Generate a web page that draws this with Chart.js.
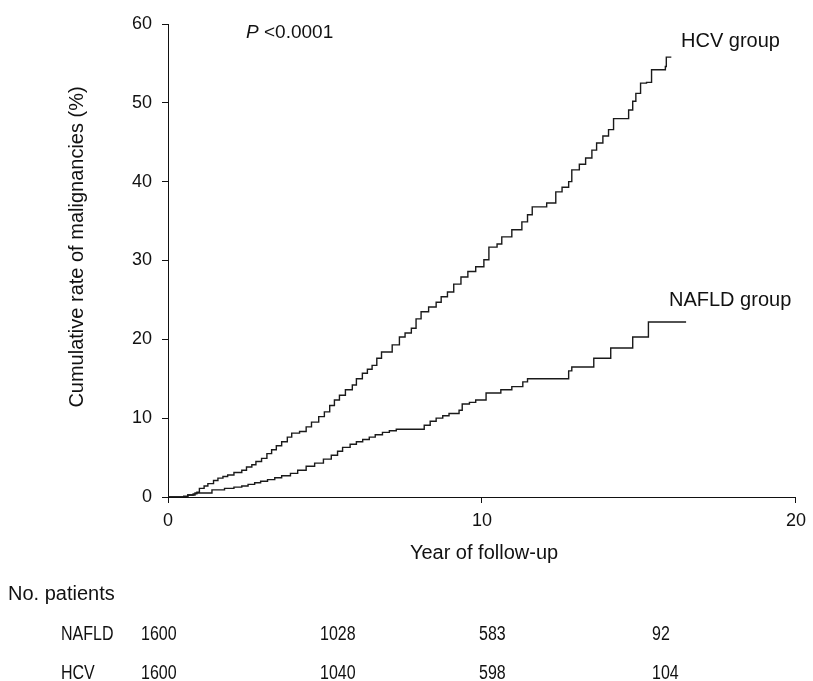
<!DOCTYPE html>
<html>
<head>
<meta charset="utf-8">
<script src="https://cdn.jsdelivr.net/npm/chart.js@4/dist/chart.umd.min.js"></script>
<style>
  html, body { margin: 0; padding: 0; background: #fff; }
  #wrap { width: 813px; height: 681px; position: relative; }
</style>
</head>
<body>
<div id="wrap"><canvas id="c" width="813" height="681"></canvas></div>
<script>
// ---- data ----
const xTicks = [0, 10, 20];
const yTicks = [0, 10, 20, 30, 40, 50, 60];

const hcvYears = [0, 0.3, 0.5, 0.63, 0.8, 0.92, 1.0, 1.15, 1.27, 1.45, 1.59, 1.75, 1.9, 2.1, 2.35, 2.5, 2.67, 2.8, 2.98, 3.15, 3.3, 3.45, 3.62, 3.8, 3.94, 4.19, 4.4, 4.57, 4.8, 4.98, 5.15, 5.3, 5.46, 5.65, 5.87, 6.0, 6.19, 6.35, 6.5, 6.65, 6.8, 7.14, 7.37, 7.55, 7.75, 7.9, 8.06, 8.3, 8.54, 8.7, 8.9, 9.1, 9.33, 9.55, 9.8, 10.06, 10.22, 10.48, 10.63, 10.95, 11.27, 11.45, 11.6, 12.06, 12.35, 12.55, 12.76, 12.86, 13.1, 13.3, 13.5, 13.65, 13.85, 14.03, 14.19, 14.5, 14.67, 14.8, 14.9, 15.05, 15.24, 15.4, 15.84, 15.87, 16.03];
const hcvRates = [0, 0, 0.1, 0.25, 0.4, 0.6, 1.1, 1.4, 1.7, 2.1, 2.4, 2.6, 2.8, 3.1, 3.4, 3.8, 4.1, 4.5, 4.9, 5.5, 6.0, 6.5, 7.0, 7.6, 8.1, 8.3, 8.9, 9.5, 10.2, 10.8, 11.6, 12.3, 12.9, 13.6, 14.2, 15.0, 15.7, 16.2, 16.7, 17.6, 18.4, 19.3, 20.3, 20.8, 21.4, 22.6, 23.5, 24.1, 24.7, 25.4, 26.0, 27.0, 27.9, 28.6, 29.2, 30.1, 31.7, 32.1, 33.0, 33.9, 34.9, 35.8, 36.8, 37.3, 38.7, 39.3, 40.0, 41.5, 42.2, 43.0, 44.0, 44.9, 45.8, 46.6, 48.0, 48.0, 49.1, 50.2, 51.2, 52.5, 52.6, 54.2, 54.6, 55.8, 55.8];

const nafldYears = [0, 0.3, 0.63, 0.86, 1.27, 1.4, 1.8, 2.1, 2.35, 2.55, 2.76, 2.95, 3.17, 3.4, 3.62, 3.9, 4.13, 4.4, 4.67, 4.95, 5.2, 5.4, 5.56, 5.8, 6.0, 6.2, 6.41, 6.6, 6.83, 7.05, 7.27, 7.78, 8.16, 8.35, 8.54, 8.75, 8.95, 9.27, 9.37, 9.6, 9.8, 10.13, 10.6, 10.95, 11.3, 11.45, 12.7, 12.76, 12.86, 13.56, 14.1, 14.8, 15.3, 16.5];
const nafldRates = [0, 0, 0.25, 0.5, 0.5, 0.9, 1.1, 1.25, 1.4, 1.6, 1.8, 2.0, 2.2, 2.45, 2.7, 3.0, 3.4, 3.9, 4.3, 4.8, 5.3, 5.8, 6.3, 6.7, 7.0, 7.3, 7.6, 7.9, 8.2, 8.4, 8.6, 8.6, 9.1, 9.6, 10.0, 10.3, 10.6, 11.0, 11.8, 12.0, 12.3, 13.2, 13.6, 14.0, 14.6, 15.0, 15.0, 16.0, 16.5, 17.6, 18.9, 20.3, 22.2, 22.2];

const riskGroups = ["NAFLD", "HCV"];
const riskNafld = ["1600", "1028", "583", "92"];
const riskHcv = ["1600", "1040", "598", "104"];

const FONT = '"Liberation Sans", Arial, Helvetica, sans-serif';
const INK = '#111';

function pts(xs, ys) { return xs.map((x, i) => ({ x: x, y: ys[i] })); }

function narrowText(ctx, txt, x, y, sx) {
  ctx.save();
  ctx.translate(x, y);
  ctx.scale(sx, 1);
  ctx.fillText(txt, 0, 0);
  ctx.restore();
}

const textPlugin = {
  id: 'texts',
  afterDraw(chart) {
    const ctx = chart.ctx;
    ctx.save();
    ctx.fillStyle = INK;
    ctx.textBaseline = 'middle';
    // y axis title
    ctx.save();
    ctx.translate(77, 247);
    ctx.rotate(-Math.PI / 2);
    ctx.textAlign = 'center';
    ctx.font = '20px ' + FONT;
    ctx.fillText('Cumulative rate of malignancies (%)', 0, 0);
    ctx.restore();
    // x axis title
    ctx.textAlign = 'center';
    ctx.font = '20px ' + FONT;
    ctx.fillText('Year of follow-up', 484, 553);
    // P value
    ctx.textAlign = 'left';
    ctx.font = 'italic 19px ' + FONT;
    ctx.fillText('P', 246, 33);
    ctx.font = '19px ' + FONT;
    ctx.fillText('<0.0001', 264, 33);
    // group labels
    ctx.font = '20px ' + FONT;
    ctx.fillText('HCV group', 681, 41);
    ctx.fillText('NAFLD group', 669, 300);
    // numbers at risk
    ctx.fillText('No. patients', 8, 594);
    const colX = [141, 320, 479, 652];
    const rows = [riskNafld, riskHcv];
    const rowY = [634, 673];
    ctx.font = '20px ' + FONT;
    rows.forEach((row, r) => {
      narrowText(ctx, riskGroups[r], 61, rowY[r], 0.8);
      row.forEach((v, i) => narrowText(ctx, v, colX[i], rowY[r], 0.8));
    });
    ctx.restore();
  }
};

new Chart(document.getElementById('c'), {
  type: 'line',
  data: {
    datasets: [
      { label: 'HCV group', data: pts(hcvYears, hcvRates), stepped: 'before', borderColor: '#1a1a1a', borderWidth: 1.4, pointRadius: 0, fill: false },
      { label: 'NAFLD group', data: pts(nafldYears, nafldRates), stepped: 'before', borderColor: '#1a1a1a', borderWidth: 1.4, pointRadius: 0, fill: false }
    ]
  },
  options: {
    responsive: false,
    animation: false,
    events: [],
    layout: { padding: { top: 24, right: 15, left: 0, bottom: 0 } },
    plugins: { legend: { display: false }, tooltip: { enabled: false } },
    scales: {
      x: {
        type: 'linear', min: 0, max: 20,
        afterFit(s) { s.height = 184; },
        afterBuildTicks(s) { s.ticks = xTicks.map(v => ({ value: v })); },
        grid: { display: true, drawOnChartArea: false, drawTicks: true, tickLength: 6, color: INK, lineWidth: 1 },
        border: { display: true, color: INK, width: 1 },
        ticks: { color: INK, font: { family: FONT, size: 18 }, padding: 7, maxRotation: 0 }
      },
      y: {
        type: 'linear', min: 0, max: 60,
        afterFit(s) { s.width = 168; },
        afterBuildTicks(s) { s.ticks = yTicks.map(v => ({ value: v })); },
        grid: { display: true, drawOnChartArea: false, drawTicks: true, tickLength: 6, color: INK, lineWidth: 1 },
        border: { display: true, color: INK, width: 1 },
        ticks: { color: INK, font: { family: FONT, size: 18 }, padding: 10 }
      }
    }
  },
  plugins: [textPlugin]
});
</script>
</body>
</html>
